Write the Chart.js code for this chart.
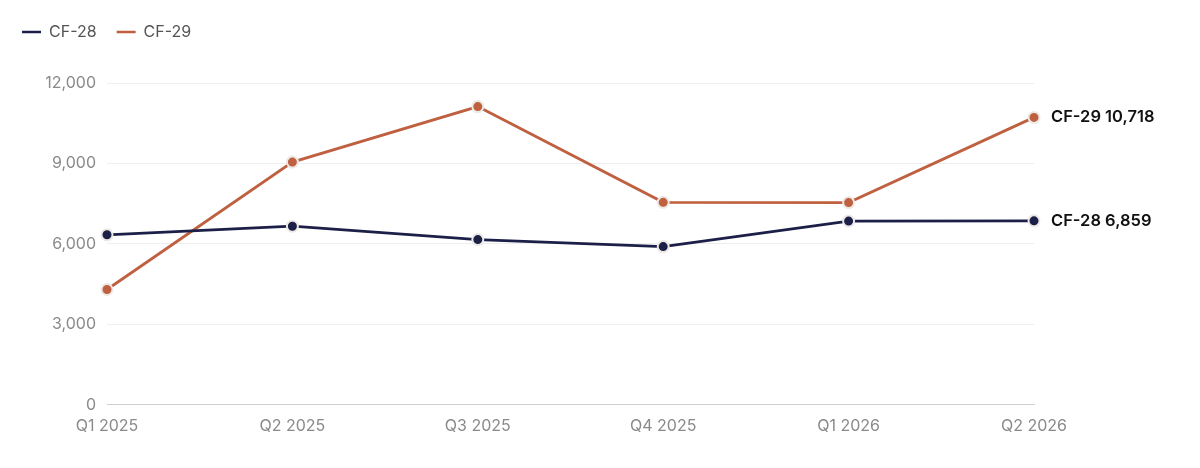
<!DOCTYPE html>
<html>
<head>
<meta charset="utf-8">
<script src="https://cdn.jsdelivr.net/npm/chart.js@4/dist/chart.umd.min.js"></script>
<style>
  html, body { margin: 0; padding: 0; background: #fff; }
  #wrap { width: 1200px; height: 468px; position: relative; }
</style>
</head>
<body>
<div id="wrap"><canvas id="chart"></canvas></div>
<script>
(function () {
    'use strict';

    const QUARTERS = ['Q1 2025', 'Q2 2025', 'Q3 2025', 'Q4 2025', 'Q1 2026', 'Q2 2026'];
    const CF28 = [6340, 6660, 6160, 5900, 6850, 6859];
    const CF29 = [4300, 9050, 11120, 7550, 7540, 10718];
    const Y_TICKS = [0, 3000, 6000, 9000, 12000];

    const NAVY = '#1c1f47';
    const RUST = '#bf6040';
    const FONT = 'Inter';

    // Draws "<name> <last value>" to the right of each series' final point
    const endLabels = {
        id: 'endLabels',
        afterDatasetsDraw(chart) {
            const ctx = chart.ctx;
            ctx.save();
            ctx.font = '600 16.5px Inter, "Noto Sans", sans-serif';
            ctx.fillStyle = '#111';
            ctx.textBaseline = 'middle';
            chart.data.datasets.forEach((ds, i) => {
                const meta = chart.getDatasetMeta(i);
                const pt = meta.data[meta.data.length - 1];
                const v = ds.data[ds.data.length - 1];
                ctx.fillText(ds.label + ' ' + v.toLocaleString('en-US'), pt.x + 17, pt.y);
            });
            ctx.restore();
        }
    };

    // Extra room between the legend and the plot
    const legendGap = {
        id: 'legendGap',
        beforeInit(chart) {
            const fit = chart.legend.fit;
            chart.legend.fit = function () {
                fit.bind(chart.legend)();
                this.height += 33;
            };
        }
    };

    function series(label, data, color) {
        return {
            label: label,
            data: data,
            borderColor: color,
            backgroundColor: color,
            borderWidth: 2.8,
            pointRadius: 5.5,
            pointBorderWidth: 2,
            pointBackgroundColor: color,
            pointBorderColor: '#ece8e4',
            tension: 0
        };
    }

    new Chart(document.getElementById('chart'), {
        type: 'line',
        data: {
            labels: QUARTERS,
            datasets: [series('CF-28', CF28, NAVY), series('CF-29', CF29, RUST)]
        },
        options: {
            responsive: true,
            maintainAspectRatio: false,
            animation: false,
            layout: { padding: { left: 2, right: 166, top: 4, bottom: 28 } },
            scales: {
                x: {
                    grid: { display: false },
                    border: { display: true, color: '#cfcfcf' },
                    ticks: { color: '#8a8a8a', font: { size: 16, family: FONT }, padding: 4, maxRotation: 0 }
                },
                y: {
                    min: 0,
                    max: 12000,
                    afterBuildTicks: function (axis) {
                        axis.ticks = Y_TICKS.map(v => ({ value: v }));
                    },
                    afterFit: function (axis) {
                        axis.width = 105;
                    },
                    grid: { color: '#eeeeee', drawTicks: false },
                    border: { display: false },
                    ticks: {
                        color: '#8a8a8a',
                        font: { size: 16, family: FONT },
                        padding: 11,
                        callback: v => v.toLocaleString('en-US')
                    }
                }
            },
            plugins: {
                legend: {
                    position: 'top',
                    align: 'start',
                    labels: {
                        boxWidth: 19,
                        boxHeight: 0,
                        padding: 20,
                        color: '#555',
                        font: { size: 16, family: FONT },
                        generateLabels: function (chart) {
                            return chart.data.datasets.map((ds, i) => ({
                                text: ds.label,
                                fillStyle: ds.borderColor,
                                strokeStyle: ds.borderColor,
                                lineWidth: 2.5,
                                fontColor: '#555',
                                datasetIndex: i,
                                hidden: false
                            }));
                        }
                    }
                },
                tooltip: { enabled: false }
            }
        },
        plugins: [endLabels, legendGap]
    });
})();
</script>
</body>
</html>
